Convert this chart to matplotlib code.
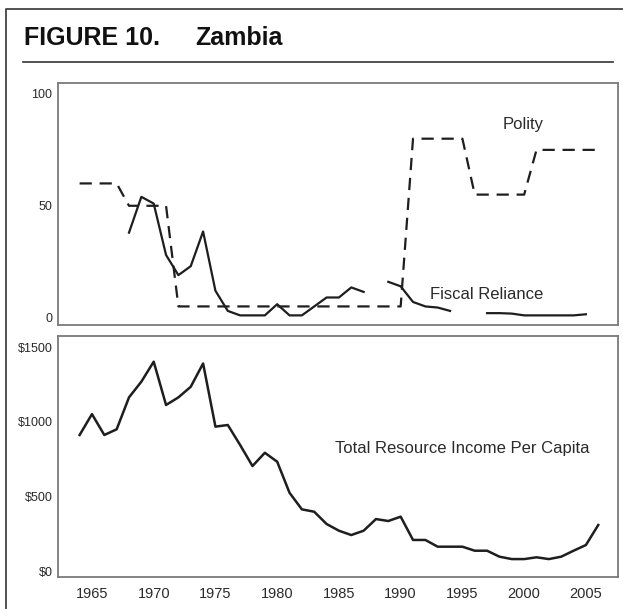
import matplotlib
matplotlib.use("Agg")
import matplotlib.pyplot as plt
import numpy as np
from matplotlib.lines import Line2D

plt.rcParams['font.family'] = ['Liberation Sans', 'DejaVu Sans']

# ---- data ----
years = list(range(1964, 2007))

polity = [60, 60, 60, 60, 50, 50, 50, 50] + [5] * 19 + [80] * 5 + [55] * 5 + [75] * 6

fiscal_years = [1968, 1969, 1970, 1971, 1972, 1973, 1974, 1975, 1976, 1977, 1978, 1979,
                1980, 1981, 1982, 1983, 1984, 1985, 1986, 1987, 1988, 1989, 1990, 1991,
                1992, 1993, 1994, 1995, 1996, 1997, 1998, 1999, 2000, 2001, 2002, 2003,
                2004, 2005]
fiscal = [38, 54, 51, 28, 19, 23, 38.5, 12, 3, 1, 1, 1,
          6, 1, 1, 5, 9, 9, 13.5, 11.5, np.nan, 16, 14, 7,
          5, 4.5, 3, np.nan, np.nan, 2, 2, 1.8, 1, 1, 1, 1,
          1, 1.5]

income = [911, 1051, 911, 949, 1163, 1268, 1402, 1112, 1163, 1234, 1390, 967,
          978, 844, 703, 792, 732, 524, 413, 397, 315, 270, 241, 270,
          348, 335, 364, 208, 208, 163, 163, 163, 136, 136, 96, 80,
          80, 92, 80, 96, 136, 174, 308]

top_ticks = [0, 50, 100]
top_labels = ['0', '50', '100']
bot_ticks = [0, 500, 1000, 1500]
bot_labels = ['$0', '$500', '$1000', '$1500']
x_ticks = [1965, 1970, 1975, 1980, 1985, 1990, 1995, 2000, 2005]

W, H = 623, 609
fig = plt.figure(figsize=(W / 100, H / 100), dpi=100)


def rect(l, t, r, b):
    return [l / W, (H - b) / H, (r - l) / W, (b - t) / H]


line_col = '#1e1e1e'
spine_col = '#7a7a7a'
text_col = '#2a2a2a'

ax1 = fig.add_axes(rect(58, 83, 618, 325))
ax2 = fig.add_axes(rect(58, 336, 618, 577))

for ax in (ax1, ax2):
    ax.set_xlim(1962.25, 2007.6)
    for s in ax.spines.values():
        s.set_color(spine_col)
        s.set_linewidth(1.3)
    ax.tick_params(length=0, colors=text_col)

ax1.plot(years, polity, color=line_col, lw=1.6, ls=(0, (5.5, 3.5)))
ax1.plot(fiscal_years, fiscal, color=line_col, lw=1.6)
ax1.set_ylim(-3.3, 104.9)
ax1.set_yticks(top_ticks)
ax1.set_yticklabels(top_labels, fontsize=9)
ax1.set_xticks([])
ax1.tick_params(axis='y', pad=4)
ax1.text(1999.9, 86.2, 'Polity', fontsize=12, color=text_col, ha='center', va='center')
ax1.text(1997.0, 10.3, 'Fiscal Reliance', fontsize=12, color=text_col, ha='center', va='center')

ax2.plot(years, income, color=line_col, lw=1.8)
ax2.set_ylim(-40, 1574)
ax2.set_yticks(bot_ticks)
ax2.set_yticklabels(bot_labels, fontsize=9)
ax2.set_xticks(x_ticks)
ax2.set_xticklabels([str(x) for x in x_ticks], fontsize=10.5)
ax2.tick_params(axis='y', pad=4)
ax2.tick_params(axis='x', pad=7.5)
ax2.text(1995.0, 822, 'Total Resource Income Per Capita', fontsize=12, color=text_col,
         ha='center', va='center')

# title and frame
fig.text(24 / W, (H - 38) / H, 'FIGURE 10.', fontsize=18, fontweight='bold',
         color='#111111', ha='left', va='center')
fig.text(195 / W, (H - 38) / H, 'Zambia', fontsize=18, fontweight='bold',
         color='#111111', ha='left', va='center')
fig.add_artist(Line2D([23 / W, 613 / W], [(H - 62) / H] * 2, color='#333333', lw=1.2))
fig.add_artist(Line2D([6 / W, 6 / W, 1.0], [0, (H - 9) / H, (H - 9) / H],
                      color='#444444', lw=1.3))

fig.savefig('out.png', dpi=100)
